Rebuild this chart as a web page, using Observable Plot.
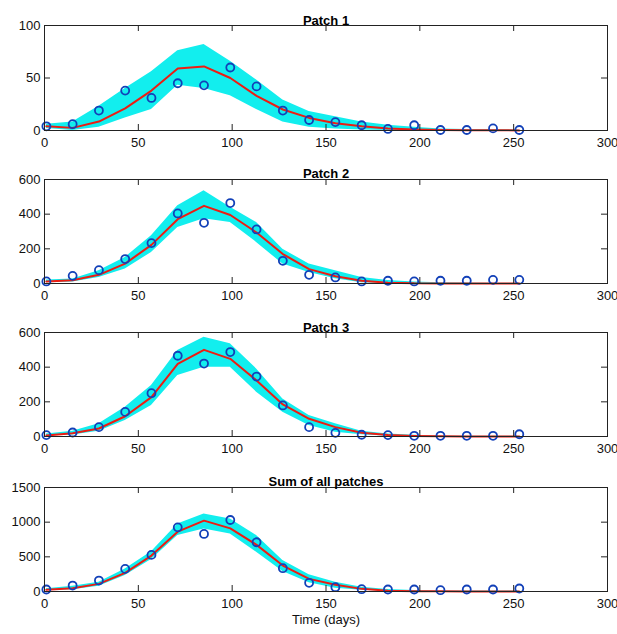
<!DOCTYPE html>
<html>
<head>
<meta charset="utf-8">
<script src="https://cdn.jsdelivr.net/npm/d3@7"></script>
<script src="https://cdn.jsdelivr.net/npm/@observablehq/plot@0.6"></script>
<style>
  html, body { margin: 0; padding: 0; background: #fff; }
  #chart svg { display: block; }
</style>
</head>
<body>
<div id="chart"></div>
<script>
// Sampling days (every two weeks)
const days = [1, 15, 29, 43, 57, 71, 85, 99, 113, 127, 141, 155, 169, 183, 197, 211, 225, 239, 253];
const xTicks = [0, 50, 100, 150, 200, 250, 300];

// Patch 1: observed counts, best fit, ensemble envelope
const obs1 = [4, 6, 19, 38, 31, 45, 43, 60, 42, 19, 10, 8, 5, 1.5, 5, 0.5, 0.5, 2, 0.5];
const fit1 = [4, 2.5, 8.5, 21, 38, 59, 61, 50, 33, 20, 12, 7, 4, 2, 1, 0.5, 0.3, 0.2, 0.1];
const lo1 = [2, 0, 3, 12, 20, 43, 40, 33, 20, 8, 3, 1.5, 0.5, 0, 0, 0, 0, 0, 0];
const hi1 = [6, 8, 23, 40, 56, 76, 82, 66, 48, 29, 18, 13, 8, 5, 3, 1.5, 1, 1, 0.5];
const yTicks1 = [0, 50, 100];

// Patch 2
const obs2 = [12, 44, 77, 141, 233, 404, 350, 464, 312, 131, 50, 35, 12, 16, 12, 16, 16, 21, 21];
const fit2 = [12, 19, 50, 115, 223, 371, 448, 395, 294, 170, 83, 42, 16, 5, 1, 0.5, 0.3, 0.2, 0.1];
const lo2 = [5, 8, 35, 83, 179, 323, 373, 352, 237, 112, 63, 27, 5, 0, 0, 0, 0, 0, 0];
const hi2 = [20, 26, 73, 150, 275, 448, 535, 440, 352, 198, 112, 73, 35, 18, 8, 4, 3, 2, 2];
const yTicks2 = [0, 200, 400, 600];

// Patch 3
const obs3 = [8, 23, 54, 142, 250, 466, 421, 487, 346, 179, 54, 21, 10, 8, 4, 4, 4, 4, 13];
const fit3 = [6, 19, 46, 117, 227, 419, 500, 448, 323, 185, 102, 54, 22, 8, 3, 1, 0.5, 0.3, 0.2];
const lo3 = [3, 8, 31, 92, 179, 352, 400, 400, 256, 140, 63, 25, 10, 2, 0, 0, 0, 0, 0];
const hi3 = [15, 30, 73, 169, 294, 496, 573, 535, 390, 217, 121, 73, 30, 15, 7, 3, 2, 2, 1];
const yTicks3 = [0, 200, 400, 600];

// Sum of all patches
const obs4 = [29, 86, 158, 326, 528, 925, 830, 1031, 710, 336, 125, 62, 33, 29, 29, 19, 29, 29, 43];
const fit4 = [24, 48, 110, 268, 518, 863, 1022, 911, 672, 374, 182, 96, 38, 10, 4, 2, 1, 1, 0.5];
const lo4 = [15, 24, 77, 230, 460, 806, 902, 830, 566, 288, 125, 48, 19, 5, 0, 0, 0, 0, 0];
const hi4 = [40, 77, 134, 326, 575, 974, 1118, 1046, 806, 446, 240, 134, 62, 30, 15, 8, 8, 8, 8];
const yTicks4 = [0, 500, 1000, 1500];

const titles = ["Patch 1", "Patch 2", "Patch 3", "Sum of all patches"];

const CYAN = "#12eeee";
const RED = "#ee1c12";
const BLUE = "#1240b8";
const INK = "#222";
const FONT = "'Liberation Sans', Arial, Helvetica, sans-serif";
const WIDTH = 617, ML = 44, MR = 10;
const TICK = 6;

function panel({obs, fit, lo, hi, yTicks, title, height, marginTop, marginBottom, titleDy, xLabel}) {
  const rows = days.map((d, i) => ({day: d, obs: obs[i], fit: fit[i], lo: lo[i], hi: hi[i]}));
  const innerH = height - marginTop - marginBottom;
  const innerW = WIDTH - ML - MR;
  const marks = [
    Plot.areaY(rows, {x: "day", y1: "lo", y2: "hi", fill: CYAN}),
    Plot.line(rows, {x: "day", y: "fit", stroke: RED, strokeWidth: 2}),
    Plot.dot(rows, {x: "day", y: "obs", r: 4, stroke: BLUE, strokeWidth: 1.8, fill: "none"}),
    // short inward ticks on all four sides of the box
    Plot.ruleX(xTicks, {x: d => d, insetTop: innerH - TICK, stroke: INK}),
    Plot.ruleX(xTicks, {x: d => d, insetBottom: innerH - TICK, stroke: INK}),
    Plot.ruleY(yTicks, {y: d => d, insetRight: innerW - TICK, stroke: INK}),
    Plot.ruleY(yTicks, {y: d => d, insetLeft: innerW - TICK, stroke: INK}),
    Plot.frame({stroke: INK, strokeWidth: 1}),
    // tick labels
    Plot.axisX(xTicks, {anchor: "bottom", tickSize: 0, tickPadding: 7, tickFormat: d => String(d), fill: "#111", label: null}),
    Plot.axisY(yTicks, {anchor: "left", tickSize: 0, tickPadding: 4, tickFormat: d => String(d), fill: "#111", label: null}),
    Plot.text([title], {frameAnchor: "top", dy: titleDy, fontWeight: "bold", fontSize: 13, fill: "#000"})
  ];
  if (xLabel) {
    marks.push(Plot.text([xLabel], {frameAnchor: "bottom", dy: 32, fontSize: 13, fill: "#111"}));
  }
  return Plot.plot({
    width: WIDTH,
    height,
    marginLeft: ML,
    marginRight: MR,
    marginTop,
    marginBottom,
    style: {fontFamily: FONT, fontSize: "13px", color: "#111", background: "#fff", overflow: "visible"},
    x: {domain: [0, 300]},
    y: {domain: [0, yTicks[yTicks.length - 1]]},
    marks
  });
}

const chart = document.getElementById("chart");
chart.append(
  panel({obs: obs1, fit: fit1, lo: lo1, hi: hi1, yTicks: yTicks1, title: titles[0], height: 153, marginTop: 25, marginBottom: 23, titleDy: -10}),
  panel({obs: obs2, fit: fit2, lo: lo2, hi: hi2, yTicks: yTicks2, title: titles[1], height: 153, marginTop: 26, marginBottom: 23, titleDy: -11}),
  panel({obs: obs3, fit: fit3, lo: lo3, hi: hi3, yTicks: yTicks3, title: titles[2], height: 153, marginTop: 26, marginBottom: 23, titleDy: -10}),
  panel({obs: obs4, fit: fit4, lo: lo4, hi: hi4, yTicks: yTicks4, title: titles[3], height: 175, marginTop: 28, marginBottom: 43, titleDy: -11, xLabel: "Time (days)"})
);
</script>
</body>
</html>
